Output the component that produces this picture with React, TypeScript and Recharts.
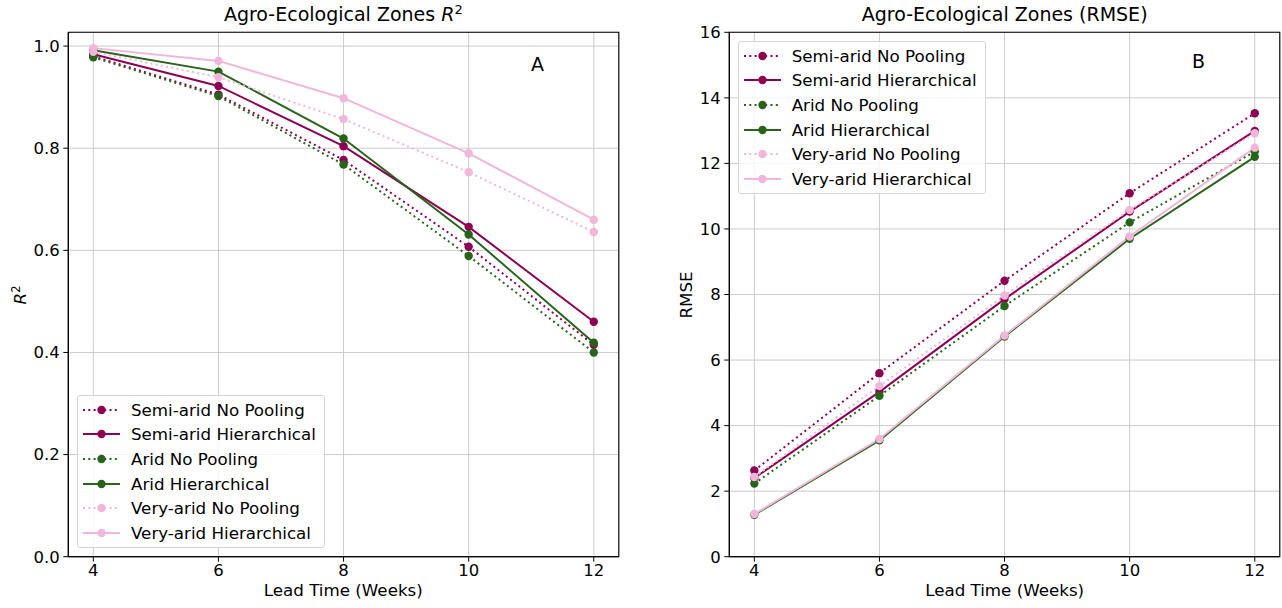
import { LineChart, Line, XAxis, YAxis, CartesianGrid, ReferenceArea } from 'recharts';

const WEEKS = [4, 6, 8, 10, 12];

// R^2 per zone and model
const R2_SEMI_NP = [0.98, 0.905, 0.777, 0.607, 0.415];
const R2_SEMI_H = [0.984, 0.922, 0.804, 0.646, 0.46];
const R2_ARID_NP = [0.978, 0.902, 0.768, 0.589, 0.4];
const R2_ARID_H = [0.992, 0.95, 0.819, 0.631, 0.419];
const R2_VA_NP = [0.989, 0.939, 0.857, 0.753, 0.636];
const R2_VA_H = [0.996, 0.971, 0.898, 0.79, 0.66];

// RMSE per zone and model
const RMSE_SEMI_NP = [2.63, 5.6, 8.42, 11.09, 13.53];
const RMSE_SEMI_H = [2.4, 5.03, 7.86, 10.53, 12.99];
const RMSE_ARID_NP = [2.23, 4.91, 7.65, 10.2, 12.36];
const RMSE_ARID_H = [1.28, 3.55, 6.72, 9.7, 12.2];
const RMSE_VA_NP = [2.43, 5.21, 7.97, 10.58, 12.92];
const RMSE_VA_H = [1.3, 3.59, 6.75, 9.77, 12.48];

const R2_TICKS = [0, 0.2, 0.4, 0.6, 0.8, 1.0];
const RMSE_TICKS = [0, 2, 4, 6, 8, 10, 12, 14, 16];

const SERIES = [
  { key: 'semiNP', name: 'Semi-arid No Pooling', color: '#8e0152', dotted: true },
  { key: 'semiH', name: 'Semi-arid Hierarchical', color: '#8e0152', dotted: false },
  { key: 'aridNP', name: 'Arid No Pooling', color: '#276419', dotted: true },
  { key: 'aridH', name: 'Arid Hierarchical', color: '#276419', dotted: false },
  { key: 'vaNP', name: 'Very-arid No Pooling', color: '#f1b6da', dotted: true },
  { key: 'vaH', name: 'Very-arid Hierarchical', color: '#f1b6da', dotted: false },
];

function buildRows(cols: number[][]) {
  return WEEKS.map((week, i) => {
    const row: Record<string, number> = { week };
    SERIES.forEach((s, j) => {
      row[s.key] = cols[j][i];
    });
    return row;
  });
}

const r2Data = buildRows([R2_SEMI_NP, R2_SEMI_H, R2_ARID_NP, R2_ARID_H, R2_VA_NP, R2_VA_H]);
const rmseData = buildRows([RMSE_SEMI_NP, RMSE_SEMI_H, RMSE_ARID_NP, RMSE_ARID_H, RMSE_VA_NP, RMSE_VA_H]);

const FONT = '"DejaVu Sans", sans-serif';
const DASH = '2 3.3';
const TICK = { fill: '#000', fontSize: 16.5 };

function LegendBox({ left, top }: { left: number; top: number }) {
  return (
    <div
      style={{
        position: 'absolute', left, top, width: 248, height: 153,
        background: 'rgba(255,255,255,0.8)', border: '1px solid #d6d6d6',
        borderRadius: 3, boxSizing: 'border-box',
      }}
    >
      {SERIES.map((s, i) => (
        <div key={s.key} style={{ position: 'absolute', left: 0, top: 13.5 + i * 24.7 - 12, height: 24, width: 246 }}>
          <svg width={40} height={24} style={{ position: 'absolute', left: 5, top: 0 }}>
            <line x1={0} x2={37} y1={12} y2={12} stroke={s.color} strokeWidth={2}
              strokeDasharray={s.dotted ? DASH : undefined} />
            <circle cx={18.5} cy={12} r={4.2} fill={s.color} />
          </svg>
          <span style={{ position: 'absolute', left: 53, top: 1, fontSize: 16.7, lineHeight: '22px', whiteSpace: 'nowrap' }}>
            {s.name}
          </span>
        </div>
      ))}
    </div>
  );
}

function Panel({ data, domain, ticks, fmt, yWidth, width, left }: any) {
  return (
    <div style={{ position: 'absolute', left, top: 0 }}>
      <LineChart width={width} height={608} data={data}
        margin={{ top: 32.3, right: width - yWidth - 550.5, bottom: 0, left: 0 }}>
        <CartesianGrid stroke="#cbcbcb" strokeWidth={1} />
        <XAxis dataKey="week" type="number" domain={[3.6, 12.4]} ticks={WEEKS} interval={0}
          height={51.3} tick={TICK} tickSize={5} tickMargin={3}
          tickLine={{ stroke: '#000' }} axisLine={{ stroke: '#000' }} allowDataOverflow />
        <YAxis type="number" domain={domain} ticks={ticks} interval={0} width={yWidth}
          tick={TICK} tickSize={5} tickMargin={3.5} tickFormatter={fmt}
          tickLine={{ stroke: '#000' }} axisLine={{ stroke: '#000' }} allowDataOverflow />
        <ReferenceArea x1={3.6} x2={12.4} y1={domain[0]} y2={domain[1]}
          fill="none" stroke="#000" strokeWidth={1.1} />
        {SERIES.map((s) => (
          <Line key={s.key} dataKey={s.key} type="linear" stroke={s.color} strokeWidth={2}
            strokeDasharray={s.dotted ? DASH : undefined}
            dot={{ r: 4.2, fill: s.color, stroke: 'none' }} activeDot={false}
            isAnimationActive={false} />
        ))}
      </LineChart>
    </div>
  );
}

export default function App() {
  return (
    <div style={{ position: 'absolute', left: 0, top: 0, width: 1282, height: 608, background: '#fff', fontFamily: FONT, color: '#000' }}>
      <Panel data={r2Data} domain={[0, 1.027]} ticks={R2_TICKS} fmt={(v: number) => v.toFixed(1)}
        yWidth={68.3} width={630} left={0} />
      <Panel data={rmseData} domain={[0, 16]} ticks={RMSE_TICKS} fmt={(v: number) => String(v)}
        yWidth={89.3} width={642} left={640} />

      <div style={{ position: 'absolute', left: 68.3, width: 550, top: 3, textAlign: 'center', fontSize: 19 }}>
        Agro-Ecological Zones <i>R</i><sup style={{ fontSize: 13, verticalAlign: 0, position: 'relative', top: -7 }}>2</sup>
      </div>
      <div style={{ position: 'absolute', left: 729.3, width: 550.7, top: 3, textAlign: 'center', fontSize: 19 }}>
        Agro-Ecological Zones (RMSE)
      </div>

      <div style={{ position: 'absolute', left: 68.3, width: 550, top: 580, textAlign: 'center', fontSize: 16.7 }}>
        Lead Time (Weeks)
      </div>
      <div style={{ position: 'absolute', left: 729.3, width: 550.7, top: 580, textAlign: 'center', fontSize: 16.7 }}>
        Lead Time (Weeks)
      </div>

      <div style={{ position: 'absolute', left: 20, top: 294.5, transform: 'translate(-50%,-50%) rotate(-90deg)', fontSize: 16.7, whiteSpace: 'nowrap' }}>
        <i>R</i><sup style={{ fontSize: 11.5, verticalAlign: 0, position: 'relative', top: -6 }}>2</sup>
      </div>
      <div style={{ position: 'absolute', left: 686, top: 294.5, transform: 'translate(-50%,-50%) rotate(-90deg)', fontSize: 16.7, whiteSpace: 'nowrap' }}>
        RMSE
      </div>

      <div style={{ position: 'absolute', left: 531, top: 53, fontSize: 19 }}>A</div>
      <div style={{ position: 'absolute', left: 1192, top: 50, fontSize: 19 }}>B</div>

      <LegendBox left={77} top={395} />
      <LegendBox left={737.7} top={41} />
    </div>
  );
}
